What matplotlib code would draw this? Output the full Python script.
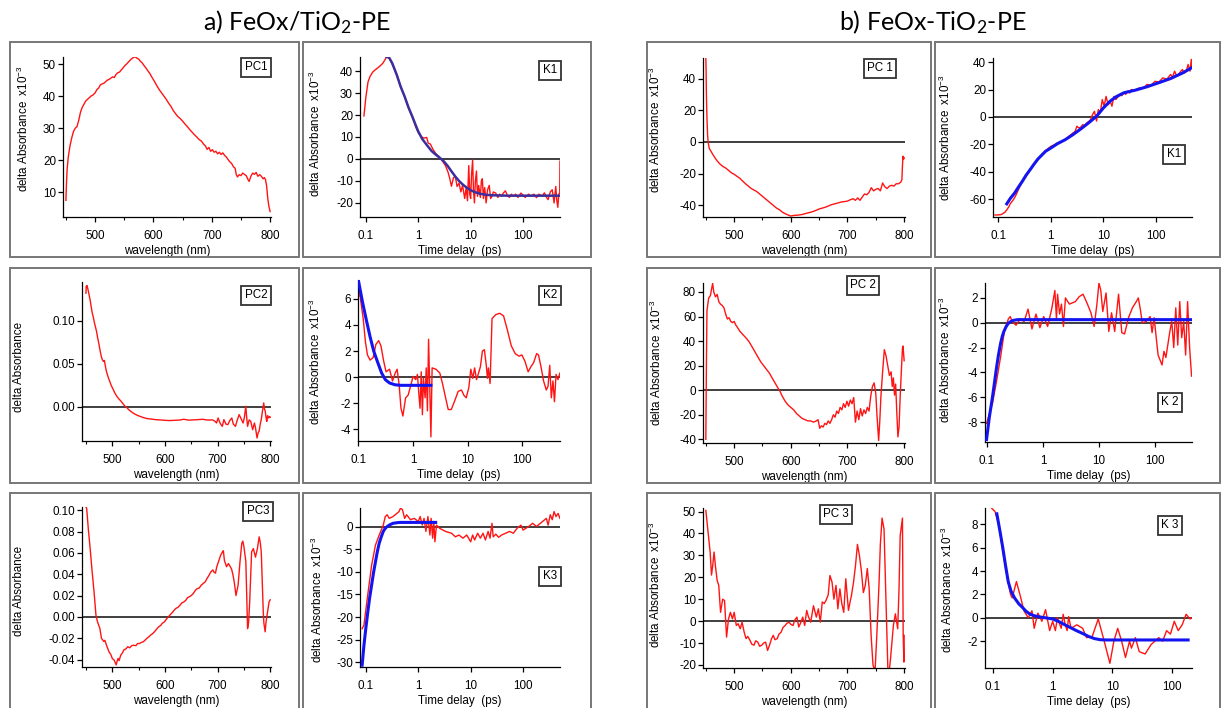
import matplotlib.pyplot as plt
from matplotlib.patches import Rectangle
from matplotlib.ticker import NullLocator, FormatStrFormatter

plt.rcParams['font.family'] = ['Liberation Sans', 'DejaVu Sans']
plt.rcParams['axes.unicode_minus'] = False
plt.rcParams['mathtext.default'] = 'regular'

# ---------------- data ----------------
wl_ticks = [500, 600, 700, 800]
wl_minor = [450, 550, 650, 750]
t_ticks = [0.1, 1, 10, 100]
t_labels = ['0.1', '1', '10', '100']

# a) FeOx/TiO2-PE
a_pc1 = [(450, 7.5), (451, 13), (452, 17), (454, 21), (457, 24.5), (460, 27), (463, 29), (466, 30),
         (469, 30.5), (472, 32.5), (475, 35), (478, 36.5), (481, 37.5), (484, 38.5), (487, 39), (490, 39.5),
         (493, 40), (496, 40.3), (500, 41), (503, 42), (506, 42.5), (509, 43.5), (512, 43.8), (515, 44),
         (518, 44.5), (521, 45), (524, 45.2), (527, 45.6), (530, 46), (533, 45.8), (536, 46.8), (539, 47.3),
         (542, 47.5), (545, 48.2), (548, 48.8), (551, 49.5), (554, 50), (557, 50.6), (560, 51.2), (563, 51.7),
         (566, 52.1), (569, 52.2), (572, 51.8), (575, 51.5), (578, 50.8), (581, 50.3), (584, 49.5), (587, 48.8),
         (590, 48), (594, 47), (598, 45.7), (602, 44.5), (606, 43.2), (610, 42), (614, 41), (618, 40),
         (622, 39), (626, 37.8), (630, 36.8), (634, 35.5), (638, 34.5), (642, 33.6), (646, 33), (650, 32.2),
         (654, 31.3), (658, 30.5), (662, 29.6), (666, 28.8), (670, 28), (674, 27.3), (678, 26.5), (682, 26),
         (686, 25), (689, 24.5), (692, 23.4), (695, 24), (698, 22.8), (701, 23.3), (704, 22.5), (707, 22.8),
         (710, 22), (713, 22.5), (716, 21.8), (719, 22.3), (722, 21.5), (725, 21), (728, 20.2), (731, 19.5),
         (734, 19), (737, 18), (740, 17.5), (742, 15.5), (744, 14.8), (747, 15.5), (750, 15.2), (753, 16),
         (756, 15.6), (759, 15.2), (762, 14), (764, 13.4), (767, 15), (770, 16), (773, 15.6), (776, 16.2),
         (779, 15), (782, 15.5), (785, 15), (788, 14.2), (790, 14.6), (792, 14), (794, 12), (796, 8),
         (798, 5.5), (800, 4)]

a_k1 = [(0.092, 19.6), (0.1, 28), (0.11, 35), (0.12, 37.5), (0.135, 39.5), (0.15, 40.5), (0.17, 41.5),
        (0.19, 42.5), (0.21, 43.5), (0.23, 45), (0.25, 46.5), (0.27, 46.8), (0.3, 44.5), (0.35, 41),
        (0.4, 37.5), (0.47, 32.5), (0.55, 28.4), (0.65, 23.5), (0.77, 19.3), (0.9, 14.5), (1.0, 12),
        (1.15, 10), (1.3, 9.5), (1.45, 9.8), (1.55, 7.2), (1.7, 6.8), (1.9, 4.5), (2.15, 2.5), (2.5, 1.0),
        (2.8, -0.5), (3.0, -1.5), (3.3, -3), (3.7, -6), (4.0, -9), (4.3, -12.4), (4.7, -8.5), (5.1, -8),
        (5.5, -12.5), (6.0, -11), (6.5, -15), (7.0, -12), (7.7, -18), (8.2, -13), (8.7, -19), (9.2, -3),
        (9.6, -16), (10, -18), (10.4, -7), (10.9, -0.5), (11.3, -14), (11.8, -20), (12.3, -10), (12.9, -5.5),
        (13.5, -17), (14.2, -12), (15.3, -17.5), (16, -10), (16.7, -9), (17.5, -18), (18.5, -13), (19.7, -20),
        (21, -14), (22.6, -12), (24, -18), (25.5, -17), (27, -15), (30, -15.5), (33, -17.5), (36, -16),
        (39, -17), (42, -15.5), (46, -14.5), (50, -16.5), (55, -17.5), (60, -16), (65, -17), (72, -16),
        (80, -17.5), (91, -15.5), (100, -16.5), (110, -17.5), (128, -16), (140, -17), (160, -16), (180, -17.6),
        (200, -16), (230, -17), (255, -15.4), (280, -17.5), (300, -18.5), (330, -15), (360, -14), (390, -20),
        (420, -12.5), (440, -19), (460, -22), (480, -16), (500, -15.4), (505, -1)]
a_k1_fit = [(0.25, 46.5), (0.28, 46), (0.32, 43.5), (0.39, 38.2), (0.46, 33), (0.55, 28.4), (0.65, 23.5),
            (0.77, 19.3), (0.9, 15.2), (1.0, 12.5), (1.2, 9), (1.53, 5.7), (1.8, 3.6), (2.15, 2.0), (2.5, 0.8),
            (3.0, -0.8), (3.6, -3), (4.3, -5.6), (5.1, -8), (6.0, -10), (7.2, -11.8), (8.6, -13.2), (10, -14.2),
            (11.8, -15), (15, -15.8), (19.7, -16.3), (25, -16.5), (35, -16.6), (50, -16.7), (100, -16.7),
            (500, -16.7)]

a_pc2 = [(450, 0.132), (450.5, 0.14), (452, 0.141), (454, 0.136), (456, 0.13), (458, 0.124), (460, 0.116),
         (462, 0.109), (464, 0.104), (466, 0.098), (468, 0.093), (470, 0.088), (472, 0.081), (474, 0.075),
         (477, 0.065), (479, 0.059), (481, 0.055), (483, 0.053), (485, 0.054), (487, 0.047), (489, 0.041),
         (492, 0.035), (495, 0.030), (498, 0.025), (502, 0.020), (505, 0.016), (509, 0.012), (513, 0.009),
         (517, 0.0065), (520, 0.004), (524, 0.001), (528, -0.001), (531, -0.003), (536, -0.0055), (542, -0.008),
         (547, -0.0095), (553, -0.011), (560, -0.0125), (567, -0.0136), (574, -0.014), (582, -0.0147),
         (590, -0.015), (600, -0.0155), (609, -0.0158), (618, -0.0155), (627, -0.0152), (636, -0.0143),
         (645, -0.0153), (654, -0.015), (663, -0.0147), (672, -0.0143), (681, -0.0152), (690, -0.015),
         (695, -0.0165), (698, -0.0186), (701, -0.0128), (705, -0.019), (709, -0.0225), (712, -0.0147),
         (716, -0.020), (719.6, -0.0205), (723, -0.016), (727, -0.0128), (730, -0.02), (734, -0.0225),
         (737, -0.016), (741, -0.0089), (745, -0.014), (748.5, -0.0186), (751, -0.012), (753.6, 0.0008),
         (755, -0.01), (757, -0.0225), (760, -0.015), (763, -0.0167), (766.7, -0.0264), (770, -0.0186),
         (772, -0.024), (775, -0.036), (777, -0.03), (779, -0.028), (781, -0.02), (783, -0.0147), (785, -0.006),
         (787.7, 0.0047), (789, -0.002), (790.6, -0.005), (792, -0.012), (793.5, -0.0167), (795, -0.010),
         (797, -0.0128), (799, -0.011), (800, -0.012)]

a_k2 = [(0.097, 7.0), (0.108, 6.1), (0.122, 4.5), (0.134, 2.7), (0.146, 1.7), (0.163, 1.3), (0.186, 1.5),
        (0.208, 2.5), (0.234, 2.8), (0.258, 2.4), (0.29, 1.2), (0.32, 0.4), (0.37, 0.6), (0.42, -0.3),
        (0.47, 0.3), (0.51, 0.6), (0.555, -0.6), (0.6, -2.4), (0.65, -3.0), (0.73, -1.6), (0.81, -1.4),
        (0.9, -0.7), (1.0, 0.05), (1.12, -0.2), (1.2, 0.2), (1.28, -1.4), (1.34, -2.4), (1.41, 0.4),
        (1.48, -2.9), (1.55, -0.1), (1.66, -1.6), (1.74, 0.7), (1.83, -2.6), (1.92, 2.9), (2.02, -0.8),
        (2.12, -4.6), (2.23, 0.7), (2.62, 0.6), (3.09, 0.3), (3.5, -0.6), (3.94, -1.6), (4.4, -2.5), (5.0, -2.5),
        (5.7, -1.9), (6.7, -1.1), (7.7, -1.0), (8.5, -1.4), (9.4, -1.6), (10.5, -0.8), (11.4, 0.6), (12.4, -0.1),
        (13.4, 0.7), (14.5, -0.2), (15.8, 0.3), (17.1, 0.8), (18.6, 2.0), (20.2, 2.1), (21.9, 0.9), (23, -0.1),
        (24, 0.7), (25.7, -0.5), (27.9, 4.5), (32.8, 4.8), (38.6, 4.9), (45.4, 4.7), (53.4, 3.6), (62.8, 2.4),
        (74, 1.8), (87.5, 1.6), (98, 1.7), (112, 1.2), (128, 0.4), (144, 0.8), (161, 1.1), (183, 1.8),
        (198, 1.7), (222, 0.7), (245, -0.3), (275, -1.0), (296, -0.7), (318, 0.9), (340, -1.6), (364, -0.3),
        (388, -1.9), (415, 0.2), (450, -0.2), (488, 0.3)]
a_k2_fit = [(0.1, 7.4), (0.118, 5.8), (0.139, 4.4), (0.163, 3.1), (0.19, 2.0), (0.226, 1.1), (0.266, 0.3),
            (0.31, -0.2), (0.37, -0.46), (0.47, -0.6), (0.6, -0.64), (1.0, -0.64), (2.12, -0.64)]

a_pc3 = [(450, 0.103), (451.4, 0.1016), (454.4, 0.083), (458, 0.064), (461.8, 0.042), (465.4, 0.0234),
         (469, 0.0016), (472, -0.0047), (476.5, -0.011), (479.4, -0.020), (483.8, -0.023), (486, -0.022),
         (489, -0.0266), (494, -0.033), (497, -0.035), (500, -0.039), (503.7, -0.0406), (507.4, -0.045),
         (509, -0.042), (511, -0.039), (513, -0.041), (516, -0.036), (519, -0.034), (522, -0.031), (526, -0.030),
         (529.4, -0.028), (533, -0.029), (537, -0.027), (540.4, -0.0266), (545, -0.027), (548, -0.025),
         (551.5, -0.025), (555, -0.024), (558.8, -0.0234), (562, -0.022), (566, -0.020), (570, -0.0185),
         (573, -0.017), (577, -0.0156), (581, -0.0135), (585, -0.011), (588, -0.0094), (592, -0.008),
         (595, -0.006), (599, -0.0047), (603, -0.002), (606.6, 0.0), (610, 0.002), (614, 0.004), (617.6, 0.0063),
         (621, 0.008), (625, 0.009), (628.7, 0.011), (632, 0.013), (636, 0.014), (639.7, 0.0156), (643, 0.018),
         (647, 0.019), (650.7, 0.0203), (654, 0.022), (658, 0.025), (661.8, 0.0266), (665, 0.027), (669, 0.0297),
         (672, 0.031), (676.5, 0.0328), (680, 0.036), (683.8, 0.039), (687, 0.042), (691, 0.044), (693, 0.042),
         (696, 0.041), (698.5, 0.047), (702, 0.052), (706, 0.058), (709.6, 0.061), (711, 0.062), (713, 0.053),
         (717, 0.047), (720.6, 0.05), (723, 0.048), (726.5, 0.045), (729, 0.040), (731.6, 0.033), (735, 0.020),
         (739, 0.0297), (742.6, 0.0516), (746, 0.069), (748, 0.071), (750, 0.066), (753.7, 0.052), (757, -0.011),
         (759, -0.005), (761, 0.014), (764.7, 0.061), (768, 0.064), (772, 0.056), (775.7, 0.064), (779, 0.075),
         (781, 0.07), (783, 0.061), (786.8, 0.0047), (788, -0.006), (790.4, -0.014), (792, -0.005),
         (794, 0.0016), (796, 0.008), (797.8, 0.014), (800, 0.016)]

a_k3 = [(0.085, -22.6), (0.092, -21.8), (0.109, -15), (0.129, -8.5), (0.153, -4), (0.18, -1.8), (0.215, 0.4),
        (0.235, 2.3), (0.255, 2.7), (0.28, 1.9), (0.33, 2.3), (0.39, 3.0), (0.43, 3.4), (0.46, 4.2), (0.5, 3.8),
        (0.55, 1.9), (0.6, 2.7), (0.71, 1.6), (0.84, 1.9), (1.0, 1.2), (1.09, 2.3), (1.19, 0.4), (1.29, 1.9),
        (1.4, -1), (1.53, 2.3), (1.67, -1.8), (1.76, 1.9), (1.88, -2.5), (1.98, 1.2), (2.08, -3.3), (2.23, 0.4),
        (2.56, -0.3), (3.3, -1), (4.3, -1.4), (5.1, -2.2), (6.0, -1.8), (7.1, -2.5), (8.4, -1.8), (10, -3.3),
        (10.9, -1.8), (11.9, -2.9), (13.6, -1.4), (15.3, -2.5), (17.2, -1.4), (19.1, -2.9), (21.5, -1),
        (23.4, -2.5), (25.5, 0.8), (26.9, -2.2), (30.2, -1.6), (34, -2.3), (39, -1.8), (46.4, -1.4), (55, -1),
        (65, -1.4), (77, -0.3), (91, 0.4), (100, -0.7), (128, 0.1), (152, 0.8), (180, 0.1), (235, 1.2),
        (278, 1.9), (300, 0.4), (330, 2.7), (360, 1.6), (390, 3.4), (425, 2.3), (465, 3.0), (505, 1.9)]
a_k3_fit = [(0.085, -30.7), (0.092, -26.3), (0.1, -22.5), (0.109, -18.9), (0.118, -15.8), (0.129, -12.9),
            (0.14, -10.2), (0.153, -7.7), (0.165, -5.6), (0.18, -3.6), (0.197, -2.2), (0.215, -1),
            (0.235, -0.3), (0.255, 0.07), (0.29, 0.5), (0.33, 0.8), (0.4, 0.95), (0.46, 1.0), (1.0, 1.0),
            (2.15, 1.0)]

# b) FeOx-TiO2-PE
b_pc1 = [(450, 53), (450.5, 45), (451, 30), (452, 15), (453, 5), (454, 0), (456, -4), (460, -6.5), (466, -10),
         (470, -12), (475, -14), (480, -15.5), (485, -16.5), (490, -18), (495, -19.5), (500, -20.5), (505, -21.8),
         (510, -23), (515, -24.8), (520, -26.5), (525, -28), (530, -29.5), (535, -30.5), (540, -31.5),
         (545, -33), (550, -34.5), (555, -36), (560, -37.5), (565, -39), (570, -40.5), (575, -42), (580, -43),
         (585, -44.5), (590, -45.5), (595, -46.3), (600, -47), (605, -46.6), (610, -46.5), (615, -46.3),
         (620, -46), (625, -45.5), (630, -45), (635, -44.6), (640, -44), (645, -43.3), (650, -42.5),
         (655, -42), (660, -41.5), (665, -40.8), (670, -40), (675, -39.5), (680, -39), (685, -38.5), (690, -38),
         (695, -37.8), (700, -37.5), (706, -36.5), (710, -36), (714, -37), (718, -35.5), (722, -37), (726, -35),
         (730, -33), (734, -33.5), (738, -32), (742, -29), (746, -31), (750, -30), (754, -29.5), (758, -31),
         (762, -26), (766, -28.5), (770, -29.5), (774, -28), (778, -27.5), (782, -28), (786, -26.5),
         (790, -26.5), (794, -25.5), (796, -24), (797, -15), (798, -9), (799, -11), (800, -10)]

b_k1 = [(0.087, -71.5), (0.1, -71.5), (0.115, -71.2), (0.123, -70.5), (0.135, -69.5), (0.146, -67.8),
        (0.16, -65.5), (0.172, -63), (0.19, -61), (0.205, -59), (0.225, -56), (0.243, -53), (0.265, -50),
        (0.288, -47), (0.33, -44), (0.37, -41), (0.405, -38.5), (0.47, -35), (0.57, -31), (0.68, -27.5),
        (0.8, -24.5), (0.9, -23), (1.0, -21.5), (1.15, -20.5), (1.34, -19), (1.6, -18), (1.88, -16.6),
        (2.23, -14), (2.64, -11.7), (2.9, -10.5), (3.13, -6.8), (3.4, -8), (3.7, -7.5), (4.05, -5.6), (4.4, -6.5),
        (4.8, -4.4), (5.2, -3.5), (5.7, -2), (6.2, 1.7), (6.75, 4.1), (7.4, -3), (8.0, 5.4), (8.7, 3),
        (9.5, 12.7), (10.3, 7.8), (11.2, 15), (12.3, 9), (13.4, 11.5), (14.5, 7.8), (15.8, 15), (17.2, 12.7),
        (18.7, 14.5), (20.4, 16.3), (22.3, 15.5), (24.3, 17.6), (26.5, 16.5), (28.8, 18.8), (31.5, 17.5),
        (34, 20), (40, 19.5), (48, 21.2), (57, 21), (67, 23.7), (80, 23), (95, 26), (113, 25.5), (134, 28.5),
        (160, 27.5), (188, 31), (205, 29), (224, 33.4), (245, 30), (265, 31), (290, 33), (315, 34.6),
        (345, 32), (373, 33.4), (405, 38.3), (440, 33.4), (465, 42), (480, 37)]
b_k1_fit = [(0.146, -63.4), (0.17, -59.5), (0.205, -55.6), (0.245, -51), (0.288, -47), (0.34, -42.5),
            (0.405, -38.5), (0.48, -34.5), (0.57, -30.7), (0.68, -27.7), (0.8, -25), (0.9, -23.8),
            (1.0, -22.7), (1.34, -19.5), (1.88, -16.6), (2.64, -12.9), (3.7, -8.8), (5.2, -4.4), (7.4, 0.5),
            (10, 6.6), (13.4, 11.5), (17.2, 14.6), (24.3, 17.6), (40, 19.5), (67, 22), (113, 25), (188, 28),
            (315, 32), (480, 36)]

b_pc2 = [(450, -40), (451, 20), (452, 65), (455, 75), (458, 77), (460, 82), (462, 87), (464, 80), (467, 76),
         (470, 78), (473, 72), (476, 70), (479, 69), (482, 67), (485, 62), (488, 58), (491, 59), (494, 56),
         (497, 55), (500, 56), (503, 53), (506, 51), (510, 48), (514, 46), (518, 44), (522, 42), (527, 39),
         (532, 35), (537, 31), (542, 27), (547, 23), (552, 20), (557, 17), (562, 14), (567, 10), (572, 6),
         (577, 2), (581, -1), (585, -5), (590, -9), (595, -12), (600, -14), (605, -16), (610, -19), (615, -21),
         (620, -23), (625, -24), (630, -25), (635, -25), (640, -26), (645, -25), (648, -24), (651, -31),
         (654, -29), (657, -30), (660, -27), (663, -28), (666, -25), (669, -27), (672, -24), (675, -20),
         (678, -22), (681, -17), (684, -19), (687, -14), (690, -16), (693, -11), (696, -14), (699, -9),
         (702, -13), (705, -8), (708, -11), (711, -6), (714, -26), (717, -17), (720, -24), (723, -15),
         (726, -21), (729, -16), (732, -19), (735, -14), (738, -17), (741, -5), (744, 3), (747, 6), (750, -3),
         (752, -20), (755, -41), (757, -25), (759, -5), (762, 15), (765, 33), (768, 28), (771, 20), (774, 12),
         (777, 15), (779, 3), (781, 10), (783, -4), (785, 5), (787, -18), (789, -38), (791, -30), (793, -5),
         (795, 15), (797, 34), (798, 36), (800, 24)]

b_k2 = [(0.098, -8.1), (0.125, -6.5), (0.148, -4.7), (0.174, -2.8), (0.204, -0.7), (0.24, 0.3), (0.26, 0.5),
        (0.28, 0.1), (0.33, -0.2), (0.39, 0.3), (0.46, 0.1), (0.54, 1.1), (0.635, -0.5), (0.75, 0.7),
        (0.88, -0.4), (1.03, 0.5), (1.21, -0.3), (1.43, 1.1), (1.63, 2.6), (1.74, 0.3), (1.82, 2.3), (1.98, 0.7),
        (2.14, 1.5), (2.32, -0.3), (2.52, 2.0), (2.96, 1.5), (3.78, 1.7), (4.44, 2.1), (5.2, 2.3), (6.1, 1.6),
        (7.2, 0.8), (8.2, -0.3), (9.2, 1.5), (10.0, 3.2), (10.8, 2.6), (11.7, 0.9), (13.4, 2.4), (15, -0.7),
        (16.8, 0.8), (19.1, -0.7), (22.4, 2.3), (25.6, -0.8), (28.7, -0.9), (33.7, 0.4), (39.6, 1.2),
        (46.5, 1.7), (50.5, 2.0), (54.8, 1.1), (59.4, 0.0), (70, 0.1), (82, 0.5), (89, -0.8), (97, 0.4),
        (105, -1.1), (114, -2.6), (134, -3.4), (145, -2.3), (157, -2.8), (185, -0.7), (200, 0.1), (217, -2.0),
        (236, 1.2), (256, -1.8), (278, 1.7), (301, -1.2), (327, 0.1), (354, -2.6), (384, 1.7), (417, -2.0),
        (452, -4.3)]
b_k2_fit = [(0.098, -9.4), (0.11, -7.6), (0.125, -6.0), (0.137, -4.7), (0.148, -3.6), (0.16, -2.6),
            (0.174, -1.7), (0.187, -1.1), (0.2, -0.7), (0.22, -0.3), (0.24, -0.05), (0.27, 0.12), (0.3, 0.2),
            (0.35, 0.25), (1, 0.25), (10, 0.25), (100, 0.25), (450, 0.25)]

b_pc3 = [(450, 50.5), (453.4, 42), (457.6, 31.5), (460, 21), (462, 25), (464.5, 31.5), (467, 25), (470, 18.5),
         (472.8, 16.3), (476, 4), (479.7, 10), (483, 9.4), (486.6, -7.3), (490, 1), (493.4, 4), (497, 1),
         (500, 4), (503.8, -2), (507, -1.2), (510.7, -3.5), (514, -0.5), (517.6, -5), (521, -8), (524, -7),
         (528, -8.8), (531, -10.5), (535, -11), (538, -9), (541.7, -9.6), (545, -11.5), (548.6, -11),
         (552, -10), (555.5, -9.6), (559, -13.4), (562.4, -11), (566, -8), (569, -6.5), (572, -8.5), (576, -8),
         (579, -6), (583, -5), (586, -3), (590, -2), (593, -1), (597, -0.5), (600, -1.5), (604, -2),
         (607, 0.5), (610.7, 1.8), (614, -2.7), (617, -1), (621, 1.8), (624.5, -2), (628, 4.9), (631, 2),
         (635, -0.5), (640, 7), (645, 1.8), (648.6, 5.6), (652, -0.5), (655.5, 8.7), (659, 8), (662, 9.4),
         (666, 12), (669, 20.8), (672.7, 17.8), (676, 10), (679.7, 16.3), (683, 5.6), (686.6, 14.7), (690, 7.9),
         (693.4, 4), (697, 19.3), (701.7, 4.9), (704, 8), (707, 11.7), (710.7, 17.8), (714, 25),
         (717.6, 35), (721, 30), (724.5, 23), (728, 13), (731.4, 16.3), (735, 24), (738.3, 14.7),
         (741.7, -6.5), (745, -20), (748.6, -23), (752, -5), (755.5, 16), (758, 35), (761, 47), (764.5, 42),
         (768, 8.7), (771.4, -23), (774, -22), (776, -17), (781, -2), (784.5, 3.3), (788.6, -3.5), (791, 15),
         (793, 39), (797, 47), (798.3, -6.5), (799.5, -18.7), (800, -6.5)]

b_k3 = [(0.086, 9.6), (0.108, 9.1), (0.125, 8.0), (0.146, 5.7), (0.17, 3.7), (0.197, 2.0), (0.21, 1.7),
        (0.247, 3.1), (0.286, 1.9), (0.33, 0.6), (0.39, 0.0), (0.45, 0.6), (0.49, -0.9), (0.565, 0.4),
        (0.66, -0.3), (0.76, 0.7), (0.89, -1.1), (1.0, -0.3), (1.11, -1.1), (1.2, 0.0), (1.39, -0.9),
        (1.5, 0.3), (1.62, -0.6), (1.75, -1.1), (1.85, 0.1), (2.03, -0.9), (2.54, -0.6), (3.18, -0.9),
        (3.7, -1.7), (4.6, -1.6), (5.8, -0.1), (7.3, -2.0), (9.1, -3.9), (10.6, -2.0), (12.3, -0.9),
        (14.3, -2.0), (16.6, -3.4), (19.4, -2.0), (20.9, -2.6), (24.3, -1.7), (28.2, -2.9), (35.4, -3.1),
        (44.4, -2.3), (59.9, -1.7), (69.6, -2.0), (81, -1.1), (94, -1.4), (109, -0.3), (127, -1.1),
        (148, -0.6), (172, 0.3), (200, -0.1), (215, 0.0)]
b_k3_fit = [(0.116, 8.9), (0.13, 7.5), (0.146, 6.0), (0.162, 4.5), (0.18, 3.1), (0.2, 2.3), (0.23, 1.7),
            (0.27, 1.2), (0.31, 0.9), (0.36, 0.55), (0.42, 0.3), (0.49, 0.18), (0.565, 0.1), (0.75, 0.0),
            (1.0, -0.1), (1.3, -0.35), (1.6, -0.6), (2.0, -0.85), (2.5, -1.1), (3.2, -1.35), (4.0, -1.6),
            (5.0, -1.78), (6.3, -1.88), (8.0, -1.9), (11.4, -1.9), (51, -1.9), (186, -1.9)]

# y tick values per panel
a_pc1_yt = [10, 20, 30, 40, 50]
a_k1_yt = [-20, -10, 0, 10, 20, 30, 40]
a_pc2_yt = [0.0, 0.05, 0.10]
a_k2_yt = [-4, -2, 0, 2, 4, 6]
a_pc3_yt = [-0.04, -0.02, 0.0, 0.02, 0.04, 0.06, 0.08, 0.10]
a_k3_yt = [-30, -25, -20, -15, -10, -5, 0]
b_pc1_yt = [-40, -20, 0, 20, 40]
b_k1_yt = [-60, -40, -20, 0, 20, 40]
b_pc2_yt = [-40, -20, 0, 20, 40, 60, 80]
b_k2_yt = [-8, -6, -4, -2, 0, 2]
b_pc3_yt = [-20, -10, 0, 10, 20, 30, 40, 50]
b_k3_yt = [-2, 0, 2, 4, 6, 8]

# ---------------- layout (pixel coordinates of the 1221x708 picture) ----------------
W, H = 1221, 708
fig = plt.figure(figsize=(W / 100, H / 100), dpi=100)
fig.patch.set_facecolor('white')

FS = 8.4
RED = '#ff1414'
BLUE = '#1414f0'
YLAB = r'delta Absorbance  x10$^{-3}$'


def fx(x):
    return x / W


def fy(y):
    return 1 - y / H


def frame(x0, y0, x1, y1):
    fig.add_artist(Rectangle((fx(x0), fy(y1)), (x1 - x0) / W, (y1 - y0) / H,
                             transform=fig.transFigure, fill=False, ec='#777777', lw=1.4))


def make_ax(box, xlim, ylim, yticks, log, fmt='%d'):
    x0, y0, x1, y1 = box
    ax = fig.add_axes([fx(x0), fy(y1), (x1 - x0) / W, (y1 - y0) / H])
    ax.patch.set_alpha(0)
    if log:
        ax.set_xscale('log')
        ax.set_xticks(t_ticks, labels=t_labels)
        ax.xaxis.set_minor_locator(NullLocator())
        ax.set_xlabel('Time delay  (ps)', fontsize=FS, labelpad=2)
    else:
        ax.set_xticks(wl_ticks)
        ax.set_xticks(wl_minor, minor=True)
        ax.set_xlabel('wavelength (nm)', fontsize=FS, labelpad=2)
    ax.set_xlim(xlim)
    ax.set_ylim(ylim)
    ax.set_yticks(yticks)
    ax.yaxis.set_major_formatter(FormatStrFormatter(fmt))
    for s in ['top', 'right']:
        ax.spines[s].set_visible(False)
    for s in ['left', 'bottom']:
        ax.spines[s].set_linewidth(0.9)
    ax.tick_params(which='major', direction='out', length=3.6, width=0.9, labelsize=FS)
    ax.tick_params(axis='x', which='major', pad=6)
    ax.tick_params(axis='y', which='major', pad=1.5)
    ax.tick_params(axis='x', which='minor', direction='out', length=2.2, width=0.8)
    return ax


def trace(ax, pts, color=RED, lw=1.0, z=2):
    ax.plot([p[0] for p in pts], [p[1] for p in pts], color=color, lw=lw, zorder=z)


def zero(ax):
    ax.axhline(0, color='#1e1e1e', lw=1.2, zorder=1)


def tag(x, y, s):
    fig.text(fx(x), fy(y), s, ha='center', va='center', fontsize=FS,
             bbox=dict(boxstyle='square,pad=0.3', fc='white', ec='#333333', lw=1.3))


def ylab(x, y, s):
    fig.text(fx(x), fy(y), s, rotation=90, ha='center', va='center', fontsize=FS)


# panel frames
for (y0, y1) in [(42, 257), (268, 483), (493, 712)]:
    frame(10, y0, 299, y1)
    frame(303, y0, 591, y1)
    frame(647, y0, 931, y1)
    frame(935, y0, 1219.5, y1)

# titles
fig.text(fx(297), fy(22), r'a) FeOx/TiO$_2$-PE', ha='center', va='center', fontsize=18, family='Lato')
fig.text(fx(933), fy(22), r'b) FeOx-TiO$_2$-PE', ha='center', va='center', fontsize=18, family='Lato')

# ---- a) column ----
ax = make_ax((63, 57, 271, 217), (445, 801.5), (2.3, 52.2), a_pc1_yt, False)
trace(ax, a_pc1)
ylab(23, 129, YLAB)
tag(256, 67, 'PC1')

ax = make_ax((360, 57, 560, 217), (0.0774, 506), (-26.4, 46.4), a_k1_yt, True)
zero(ax)
trace(ax, a_k1)
trace(ax, a_k1_fit, color='#3b2e9e', lw=1.8, z=3)
ylab(315, 134, YLAB)
tag(550, 70, 'K1')

ax = make_ax((82, 282, 271, 441), (442.5, 801.5), (-0.0395, 0.145), a_pc2_yt, False, '%.2f')
zero(ax)
trace(ax, a_pc2)
ylab(19, 367, 'delta Absorbance')
tag(256, 295, 'PC2')

ax = make_ax((358, 280, 560, 441), (0.098, 490), (-4.92, 7.46), a_k2_yt, True)
zero(ax)
trace(ax, a_k2)
trace(ax, a_k2_fit, color=BLUE, lw=2.2, z=3)
ylab(315, 362, YLAB)
tag(550, 295, 'K2')

ax = make_ax((82, 507, 271, 667), (442.5, 801.5), (-0.047, 0.103), a_pc3_yt, False, '%.2f')
zero(ax)
trace(ax, a_pc3)
ylab(19, 591, 'delta Absorbance')
tag(258, 511, 'PC3')

ax = make_ax((360, 508, 560, 667), (0.0774, 506), (-31.1, 4.2), a_k3_yt, True)
zero(ax)
trace(ax, a_k3)
trace(ax, a_k3_fit, color=BLUE, lw=2.2, z=3)
ylab(317, 600, YLAB)
tag(550, 576, 'K3')

# ---- b) column ----
ax = make_ax((703, 58, 905, 217), (445, 801.5), (-47.6, 53.3), b_pc1_yt, False)
zero(ax)
trace(ax, b_pc1)
ylab(655, 130, YLAB)
tag(880, 68, 'PC 1')

ax = make_ax((993, 58, 1192, 217), (0.08, 480), (-73, 43), b_k1_yt, True)
zero(ax)
trace(ax, b_k1)
trace(ax, b_k1_fit, color=BLUE, lw=2.2, z=3)
ylab(945, 138, YLAB)
tag(1174, 154, 'K1')

ax = make_ax((703, 283, 905, 443), (445, 801.5), (-43, 87.3), b_pc2_yt, False)
zero(ax)
trace(ax, b_pc2)
ylab(656, 363, YLAB)
tag(863, 285, 'PC 2')

ax = make_ax((985, 283, 1192, 442), (0.092, 460), (-9.6, 3.2), b_k2_yt, True)
zero(ax)
trace(ax, b_k2)
trace(ax, b_k2_fit, color=BLUE, lw=2.2, z=3)
ylab(945, 360, YLAB)
tag(1170, 402, 'K 2')

ax = make_ax((703, 508, 905, 668), (445, 801.5), (-21.4, 51.6), b_pc3_yt, False)
zero(ax)
trace(ax, b_pc3)
ylab(655, 585, YLAB)
tag(836, 514, 'PC 3')

ax = make_ax((985, 508, 1192, 668), (0.0735, 216), (-4.3, 9.4), b_k3_yt, True)
zero(ax)
trace(ax, b_k3)
trace(ax, b_k3_fit, color=BLUE, lw=2.2, z=3)
ylab(947, 590, YLAB)
tag(1170, 525, 'K 3')

fig.savefig('out.png', dpi=100, facecolor='white')
